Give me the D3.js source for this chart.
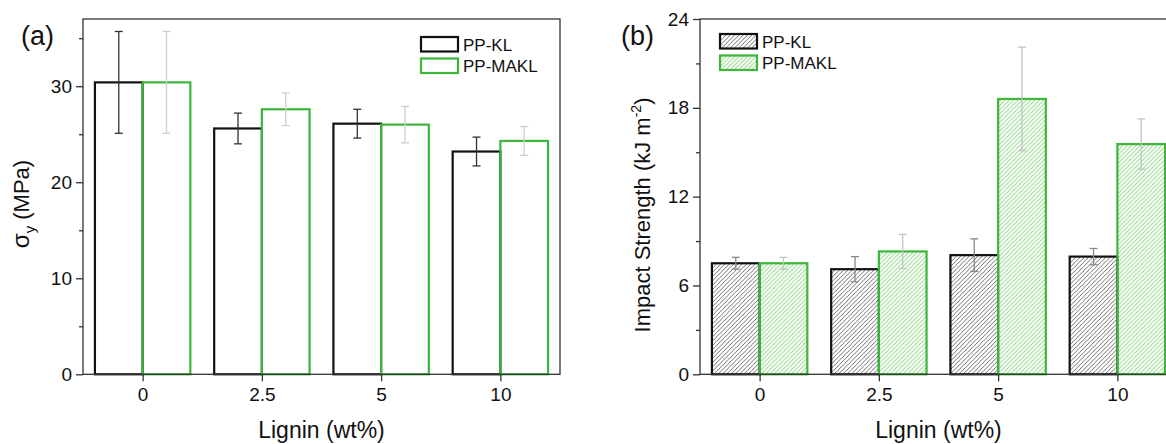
<!DOCTYPE html>
<html>
<head>
<meta charset="utf-8">
<script src="https://cdn.jsdelivr.net/npm/d3@7.9.0/dist/d3.min.js"></script>
<style>
  html, body { margin: 0; padding: 0; background: #fff; }
  svg { display: block; font-family: "Liberation Sans", Arial, sans-serif; }
</style>
</head>
<body>
<svg id="chart" width="1166" height="444"></svg>
<script>
// ---------- data ----------
const categories = ['0', '2.5', '5', '10'];
const seriesNames = ['PP-KL', 'PP-MAKL'];

// (a) yield stress, MPa
const stressKL = [30.4, 25.6, 26.1, 23.2];
const stressKLErr = [5.3, 1.6, 1.5, 1.5];
const stressMAKL = [30.4, 27.6, 26.0, 24.3];
const stressMAKLErr = [5.3, 1.7, 1.9, 1.5];

// (b) impact strength, kJ m-2
const impactKL = [7.5, 7.1, 8.05, 7.95];
const impactKLErr = [0.4, 0.85, 1.1, 0.55];
const impactMAKL = [7.5, 8.3, 18.6, 15.55];
const impactMAKLErr = [0.4, 1.15, 3.5, 1.7];

const stressTicks = [0, 10, 20, 30];
const impactTicks = [0, 6, 12, 18, 24];

const GREEN = '#3db63a';
const svg = d3.select('#chart');

// hatch patterns for panel (b)
const defs = svg.append('defs');
function hatch(id, color, w) {
  defs.append('pattern')
    .attr('id', id)
    .attr('patternUnits', 'userSpaceOnUse')
    .attr('width', 4.3).attr('height', 4.3)
    .append('path')
    .attr('d', 'M-1,1 L1,-1 M0,4.3 L4.3,0 M3.3,5.3 L5.3,3.3')
    .attr('stroke', color)
    .attr('stroke-width', w);
}
hatch('hatchKL', '#555', 0.85);
hatch('hatchMAKL', '#8ed686', 1);

function panel(opt) {
  const g = svg.append('g');
  const x = d3.scaleBand().domain(categories).range([opt.left, opt.left + 477]);
  const y = d3.scaleLinear().domain(opt.domain).range([374.3, 19]);
  const bw = x.bandwidth() * 0.4;
  const cx = c => x(c) + x.bandwidth() / 2;

  // bars
  const series = [
    { vals: opt.kl, errs: opt.klErr, stroke: '#111', fill: opt.hatched ? 'url(#hatchKL)' : 'none', off: -bw, errColor: opt.klErrColor },
    { vals: opt.makl, errs: opt.maklErr, stroke: GREEN, fill: opt.hatched ? 'url(#hatchMAKL)' : 'none', off: 0, errColor: opt.maklErrColor }
  ];
  series.forEach(s => {
    g.selectAll(null).data(categories).enter().append('rect')
      .attr('x', (c) => cx(c) + s.off)
      .attr('y', (c, i) => y(s.vals[i]))
      .attr('width', bw)
      .attr('height', (c, i) => y(0) - y(s.vals[i]))
      .attr('fill', s.fill)
      .attr('stroke', s.stroke)
      .attr('stroke-width', 2.2);
  });
  // error bars on top
  series.forEach(s => {
    categories.forEach((c, i) => {
      const ex = cx(c) + s.off + bw / 2;
      const top = y(s.vals[i] + s.errs[i]);
      const bot = y(s.vals[i] - s.errs[i]);
      const eg = g.append('g').attr('stroke', s.errColor).attr('stroke-width', 1.3);
      eg.append('line').attr('x1', ex).attr('x2', ex).attr('y1', top).attr('y2', bot);
      eg.append('line').attr('x1', ex - 4).attr('x2', ex + 4).attr('y1', top).attr('y2', top);
      eg.append('line').attr('x1', ex - 4).attr('x2', ex + 4).attr('y1', bot).attr('y2', bot);
    });
  });

  // frame
  g.append('rect')
    .attr('x', opt.left).attr('y', 19)
    .attr('width', 477).attr('height', 374.3 - 19)
    .attr('fill', 'none').attr('stroke', '#333').attr('stroke-width', 1.3);

  // y axis
  const yAxis = d3.axisLeft(y).tickValues(opt.yTicks).tickSize(7).tickPadding(4).tickFormat(d3.format('d'));
  const ya = g.append('g').attr('transform', `translate(${opt.left},0)`).call(yAxis);
  const minor = d3.axisLeft(y).tickValues(opt.minorTicks).tickSize(4).tickFormat('');
  const ym = g.append('g').attr('transform', `translate(${opt.left},0)`).call(minor);
  // x axis
  const xAxis = d3.axisBottom(d3.scalePoint().domain(categories).range([cx('0'), cx('10')]))
    .tickSize(7).tickPadding(6);
  const xa = g.append('g').attr('transform', 'translate(0,374.3)').call(xAxis);
  [ya, ym, xa].forEach(a => {
    a.select('.domain').remove();
    a.selectAll('line').attr('stroke', '#333').attr('stroke-width', 1.3);
    a.selectAll('text').attr('font-size', 19).attr('fill', '#111')
      .attr('font-family', '"Liberation Sans", Arial, sans-serif');
  });

  // axis titles
  g.append('text')
    .attr('x', opt.left + 238.5).attr('y', 438)
    .attr('text-anchor', 'middle').attr('font-size', 23).attr('fill', '#111')
    .text('Lignin (wt%)');
  const yt = g.append('text')
    .attr('transform', `translate(${opt.ytx},${opt.yty}) rotate(-90)`)
    .attr('text-anchor', 'middle').attr('font-size', 22).attr('fill', '#111');
  opt.yTitle(yt);

  // panel label
  g.append('text').attr('x', opt.labelX).attr('y', 45)
    .attr('font-size', 27).attr('fill', '#111').text(opt.label);

  // legend
  seriesNames.forEach((n, i) => {
    const ly = opt.legY + i * 21.5;
    g.append('rect')
      .attr('x', opt.legX).attr('y', ly)
      .attr('width', 37).attr('height', 14.5)
      .attr('fill', i === 0 ? series[0].fill : series[1].fill)
      .attr('stroke', i === 0 ? '#111' : GREEN).attr('stroke-width', 2.2);
    g.append('text')
      .attr('x', opt.legX + 42).attr('y', ly + 13.5)
      .attr('font-size', 17).attr('fill', '#111').text(n);
  });
}

panel({
  left: 83, domain: [0, 37],
  kl: stressKL, klErr: stressKLErr, makl: stressMAKL, maklErr: stressMAKLErr,
  klErrColor: '#333', maklErrColor: '#cfcfcf',
  yTicks: stressTicks, minorTicks: [5, 15, 25, 35],
  hatched: false, label: '(a)', labelX: 21,
  legX: 421, legY: 37,
  ytx: 29, yty: 204,
  yTitle: t => {
    t.append('tspan').attr('font-size', 24).text('σ');
    t.append('tspan').attr('font-size', 15).attr('dy', 6).text('y');
    t.append('tspan').attr('dy', -6).text(' (MPa)');
  }
});

panel({
  left: 700, domain: [0, 24],
  kl: impactKL, klErr: impactKLErr, makl: impactMAKL, maklErr: impactMAKLErr,
  klErrColor: '#8a8a8a', maklErrColor: '#c4c4c4',
  yTicks: impactTicks, minorTicks: [3, 9, 15, 21],
  hatched: true, label: '(b)', labelX: 621,
  legX: 720, legY: 34,
  ytx: 650, yty: 215,
  yTitle: t => {
    t.append('tspan').text('Impact Strength (kJ m');
    t.append('tspan').attr('font-size', 14).attr('dy', -9).text('-2');
    t.append('tspan').attr('dy', 9).text(')');
  }
});
</script>
</body>
</html>
